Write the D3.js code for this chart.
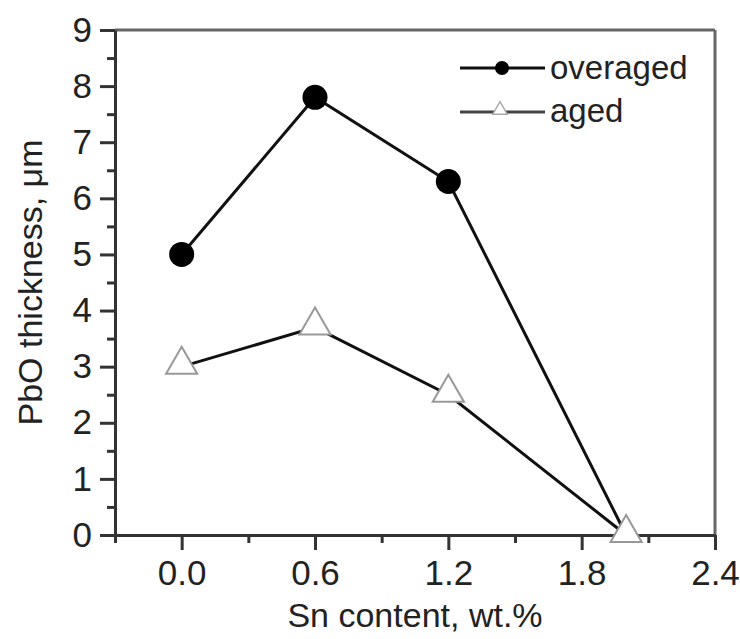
<!DOCTYPE html>
<html>
<head>
<meta charset="utf-8">
<script src="https://cdn.jsdelivr.net/npm/d3@7"></script>
<style>
  body { margin: 0; background: #fff; }
  text { font-family: "Liberation Sans", Arial, sans-serif; fill: #222; }
</style>
</head>
<body>
<svg width="740" height="639"></svg>
<script>
// chart data
var snContent = [0.0, 0.6, 1.2, 2.0];
var overaged = [5.0, 7.8, 6.3, 0.0];
var aged = [3.0, 3.7, 2.5, 0.0];
var xTicks = [0.0, 0.6, 1.2, 1.8, 2.4];
var yTicks = [0, 1, 2, 3, 4, 5, 6, 7, 8, 9];

(function() {
    var svg = d3.select("svg");
    var mLeft = 115, mRight = 715, mTop = 30, mBottom = 535;

    var x = d3.scaleLinear().domain([-0.3, 2.4]).range([mLeft, mRight]);
    var y = d3.scaleLinear().domain([0, 9]).range([mBottom, mTop]);

    // frame top / right
    svg.append("line").attr("x1", mLeft).attr("x2", mRight).attr("y1", mTop).attr("y2", mTop)
        .style("stroke", "#666").style("stroke-width", 3);
    svg.append("line").attr("x1", mRight).attr("x2", mRight).attr("y1", mTop).attr("y2", mBottom)
        .style("stroke", "#666").style("stroke-width", 3);

    // y axis
    svg.append("g").attr("transform", "translate(" + mLeft + ",0)")
        .call(d3.axisLeft(y).tickValues(yTicks).tickFormat(d3.format("d")).tickSize(15).tickSizeOuter(0).tickPadding(8));
    svg.append("g").attr("transform", "translate(" + mLeft + ",0)")
        .call(d3.axisLeft(y).tickValues(d3.range(0.5, 9, 1)).tickFormat("").tickSize(8).tickSizeOuter(0))
        .select(".domain").remove();

    // x axis
    svg.append("g").attr("transform", "translate(0," + mBottom + ")")
        .call(d3.axisBottom(x).tickValues(xTicks).tickFormat(d3.format(".1f")).tickSize(15).tickSizeOuter(0).tickPadding(10));
    svg.append("g").attr("transform", "translate(0," + mBottom + ")")
        .call(d3.axisBottom(x).tickValues([-0.3, 0.3, 0.9, 1.5, 2.1]).tickFormat("").tickSize(8).tickSizeOuter(0))
        .select(".domain").remove();

    svg.selectAll(".domain").style("stroke", "#333").style("stroke-width", 3);
    svg.selectAll(".tick line").style("stroke", "#333").style("stroke-width", 3);
    svg.selectAll(".tick text").style("font-size", "35px").style("fill", "#222")
        .style("font-family", "'Liberation Sans', Arial, sans-serif");

    // lines
    var line = d3.line().x(function(d, i) { return x(snContent[i]); }).y(function(d) { return y(d); });

    svg.append("path").datum(overaged).attr("d", line)
        .style("fill", "none").style("stroke", "#111").style("stroke-width", 3);
    svg.append("path").datum(aged).attr("d", line)
        .style("fill", "none").style("stroke", "#111").style("stroke-width", 3);

    var tri = d3.symbol().type(d3.symbolTriangle).size(420);

    svg.append("g").selectAll("path")
        .data(aged).enter().append("path")
        .attr("d", tri)
        .attr("transform", function(d, i) { return "translate(" + x(snContent[i]) + "," + (y(d) - 2) + ")"; })
        .style("fill", "#fff").style("stroke", "#999").style("stroke-width", 2);

    svg.append("g").selectAll("circle")
        .data(overaged.slice(0, 3)).enter().append("circle")
        .attr("cx", function(d, i) { return x(snContent[i]); })
        .attr("cy", function(d) { return y(d); })
        .attr("r", 12.5)
        .style("fill", "#000");

    // legend
    var lg = svg.append("g");
    lg.append("line").attr("x1", 460).attr("x2", 545).attr("y1", 68).attr("y2", 68)
        .style("stroke", "#111").style("stroke-width", 3);
    lg.append("circle").attr("cx", 502).attr("cy", 68).attr("r", 7).style("fill", "#000");
    lg.append("text").attr("x", 550).attr("y", 79).text("overaged").style("font-size", "33px");

    lg.append("line").attr("x1", 460).attr("x2", 545).attr("y1", 112).attr("y2", 112)
        .style("stroke", "#444").style("stroke-width", 3);
    lg.append("path").attr("d", d3.symbol().type(d3.symbolTriangle).size(90))
        .attr("transform", "translate(500,110)")
        .style("fill", "#fff").style("stroke", "#aaa").style("stroke-width", 1.5);
    lg.append("text").attr("x", 550).attr("y", 122).text("aged").style("font-size", "33px");

    // axis titles
    svg.append("text").attr("x", (mLeft + mRight) / 2).attr("y", 627)
        .attr("text-anchor", "middle").style("font-size", "34px")
        .text("Sn content, wt.%");
    svg.append("text")
        .attr("transform", "translate(42," + ((mTop + mBottom) / 2) + ") rotate(-90)")
        .attr("text-anchor", "middle").style("font-size", "34px")
        .text("PbO thickness, μm");
})();
</script>
</body>
</html>
